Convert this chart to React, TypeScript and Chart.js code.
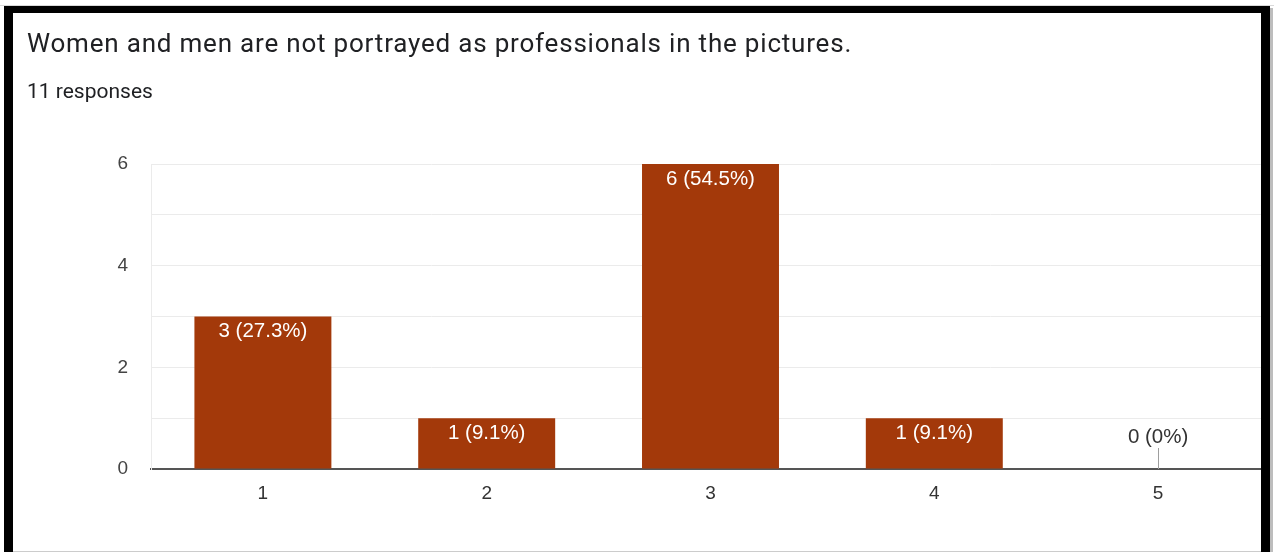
import React, { useEffect, useRef } from "react";
import { Chart, registerables } from "chart.js";

Chart.register(...registerables);

const titleText = "Women and men are not portrayed as professionals in the pictures.";
const subtitleText = "11 responses";
const categories = ["1", "2", "3", "4", "5"];
const counts = [3, 1, 6, 1, 0];
const percentLabels = ["27.3%", "9.1%", "54.5%", "9.1%", "0%"];
const yTickValues = [0, 2, 4, 6];

const BAR_COLOR = "#a3390a";
const CHART_FONT = "Arial, 'Liberation Sans', sans-serif";

const barLabelPlugin = {
  id: "barLabels",
  afterDatasetsDraw(chart: any) {
    const ctx = chart.ctx;
    const meta = chart.getDatasetMeta(0);
    const yScale = chart.scales.y;
    ctx.save();
    ctx.font = `20.5px ${CHART_FONT}`;
    ctx.textAlign = "center";
    ctx.textBaseline = "middle";
    meta.data.forEach((bar: any, i: number) => {
      const v = counts[i];
      const text = `${v} (${percentLabels[i]})`;
      if (v > 0) {
        ctx.fillStyle = "#ffffff";
        ctx.fillText(text, bar.x, bar.y + 15);
      } else {
        const base = yScale.getPixelForValue(0);
        ctx.strokeStyle = "#9e9e9e";
        ctx.lineWidth = 1;
        ctx.beginPath();
        ctx.moveTo(Math.round(bar.x) + 0.5, base);
        ctx.lineTo(Math.round(bar.x) + 0.5, base - 21);
        ctx.stroke();
        ctx.fillStyle = "#333333";
        ctx.fillText(text, bar.x, base - 32);
      }
    });
    ctx.restore();
  },
};

export default function App() {
  const canvasRef = useRef<HTMLCanvasElement | null>(null);

  useEffect(() => {
    document.body.style.margin = "0";
    const canvas = canvasRef.current;
    if (!canvas) return;
    const chart = new Chart(canvas, {
      type: "bar",
      data: {
        labels: categories,
        datasets: [
          {
            data: counts,
            backgroundColor: BAR_COLOR,
            borderWidth: 0,
            categoryPercentage: 1,
            barPercentage: 0.612,
          },
        ],
      },
      options: {
        responsive: false,
        animation: false,
        devicePixelRatio: 1,
        layout: { padding: { top: 164, right: 4, bottom: 0, left: 0 } },
        plugins: {
          legend: { display: false },
          tooltip: { enabled: false },
          title: { display: false },
        },
        scales: {
          x: {
            offset: true,
            grid: { display: false, drawTicks: false },
            border: { display: true, color: "#555555", width: 2 },
            ticks: {
              color: "#333333",
              font: { family: CHART_FONT, size: 19 },
              padding: 13,
            },
            afterFit(scale: any) {
              scale.height = 83;
            },
          },
          y: {
            min: 0,
            max: 6,
            grid: { color: "#ebebeb", lineWidth: 1, drawTicks: false },
            border: { display: true, color: "#ebebeb", width: 1 },
            ticks: {
              stepSize: 1,
              color: "#444444",
              font: { family: CHART_FONT, size: 19 },
              padding: 23,
              callback: (v: any) => (yTickValues.includes(Number(v)) ? String(v) : ""),
            },
            afterFit(scale: any) {
              scale.width = 151;
            },
          },
        },
      },
      plugins: [barLabelPlugin],
    });
    return () => chart.destroy();
  }, []);

  return (
    <div
      style={{
        position: "fixed",
        left: 0,
        top: 0,
        width: 1274,
        height: 552,
        background: "#ffffff",
        overflow: "hidden",
      }}
    >
      <canvas
        ref={canvasRef}
        width={1274}
        height={552}
        style={{ position: "absolute", left: 0, top: 0, width: 1274, height: 552 }}
      />
      <div
        style={{
          position: "absolute",
          left: 27,
          top: 30,
          fontFamily: "Roboto, sans-serif",
          fontSize: 26,
          lineHeight: "26px",
          letterSpacing: "0.8px",
          color: "#202124",
          whiteSpace: "nowrap",
        }}
      >
        {titleText}
      </div>
      <div
        style={{
          position: "absolute",
          left: 27,
          top: 81,
          fontFamily: "Roboto, sans-serif",
          fontSize: 21,
          lineHeight: "21px",
          color: "#202124",
          whiteSpace: "nowrap",
        }}
      >
        {subtitleText}
      </div>
      {/* frame */}
      <div style={{ position: "absolute", left: 0, top: 5, width: 1274, height: 1, background: "#d9d9d9" }} />
      <div style={{ position: "absolute", left: 4, top: 6, width: 1266, height: 7, background: "#000" }} />
      <div style={{ position: "absolute", left: 4, top: 6, width: 9, height: 546, background: "#000" }} />
      <div style={{ position: "absolute", left: 1261, top: 6, width: 9, height: 546, background: "#000" }} />
      <div style={{ position: "absolute", left: 1270, top: 8, width: 3, height: 544, background: "#bdbdbd" }} />
      <div style={{ position: "absolute", left: 13, top: 551, width: 1248, height: 1, background: "#cccccc" }} />
    </div>
  );
}
